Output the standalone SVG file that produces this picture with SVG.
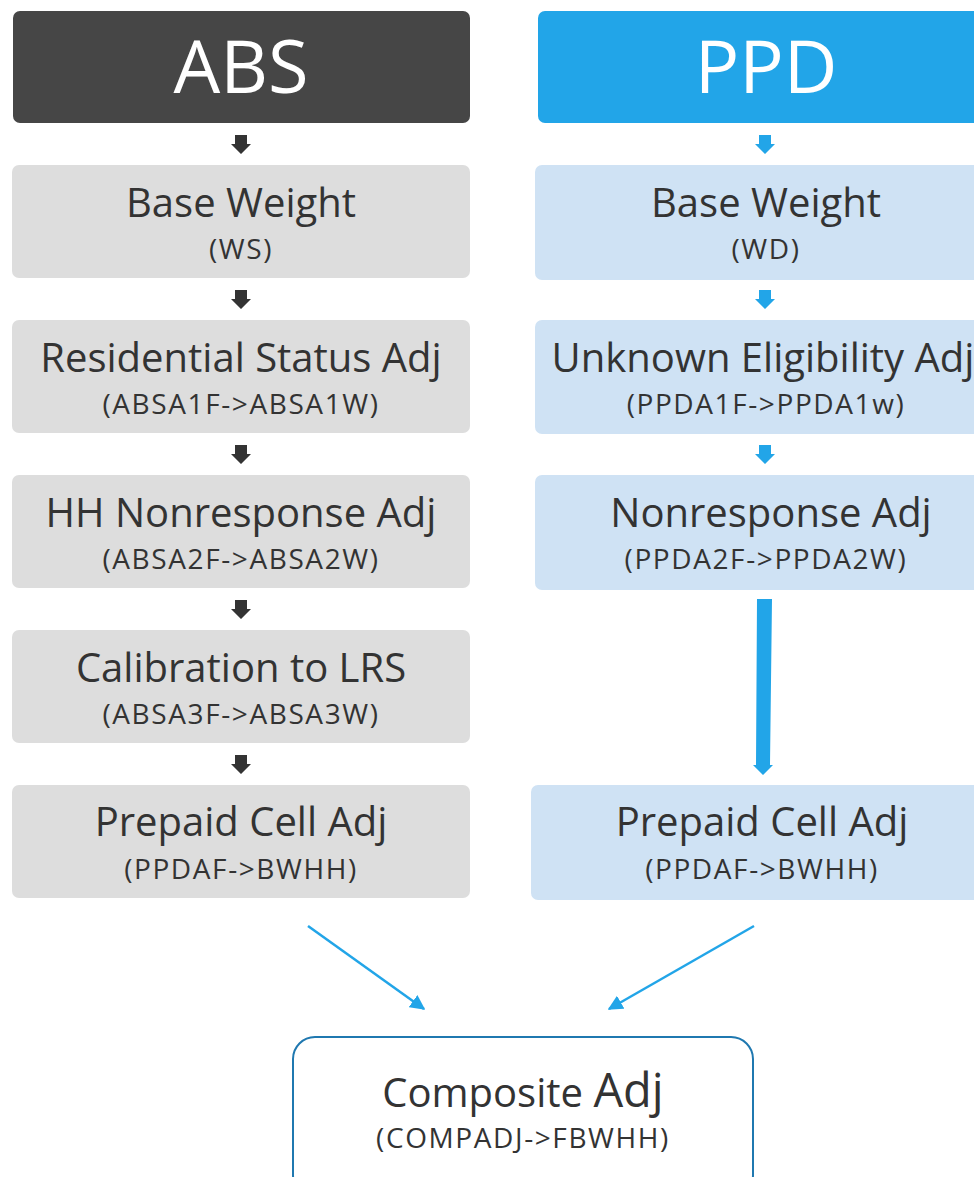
<svg xmlns="http://www.w3.org/2000/svg" width="974" height="1177" viewBox="0 0 974 1177">
  <defs>
    <style>
      .hdr-abs { fill: #464646; }
      .hdr-ppd { fill: #22a5e8; }
      .box-abs { fill: #dddddd; }
      .box-ppd { fill: #cfe2f4; }
      .hdr-txt { font-family: "Open Sans", "Noto Sans", sans-serif; font-size: 74px; fill: #ffffff; text-anchor: middle; }
      .main { font-family: "Open Sans", "Noto Sans", sans-serif; font-size: 40px; fill: #333333; text-anchor: middle; }
      .sub { font-family: "Open Sans", "Noto Sans", sans-serif; font-size: 28px; letter-spacing: 1.6px; fill: #333333; text-anchor: middle; }
      .blk { fill: #333333; }
      .blu { fill: #22a5e8; }
      .link { stroke: #22a5e8; stroke-width: 2.5; fill: none; }
    </style>
    <marker id="tip" viewBox="0 0 10 10" refX="9" refY="5" markerWidth="6" markerHeight="6" markerUnits="strokeWidth" orient="auto">
      <path d="M0,0 L10,5 L0,10 z" fill="#22a5e8"/>
    </marker>
    <!-- small block arrow, tip at origin -->
    <path id="blk-arrow" d="M-6,-19 L6,-19 L6,-10 L10,-10 L0,0 L-10,-10 L-6,-10 z"/>
  </defs>

  <!-- ABS column -->
  <g id="abs-header">
    <rect class="hdr-abs" x="13" y="11" width="457" height="112" rx="7"/>
    <text class="hdr-txt" x="241" y="93">ABS</text>
  </g>
  <g id="abs-base">
    <rect class="box-abs" x="12" y="165" width="458" height="113" rx="7"/>
    <text class="main" x="241" y="217">Base Weight</text>
    <text class="sub" x="241" y="259">(WS)</text>
  </g>
  <g id="abs-resid">
    <rect class="box-abs" x="12" y="320" width="458" height="113" rx="7"/>
    <text class="main" x="241" y="372">Residential Status Adj</text>
    <text class="sub" x="241" y="414">(ABSA1F-&gt;ABSA1W)</text>
  </g>
  <g id="abs-hhnr">
    <rect class="box-abs" x="12" y="475" width="458" height="113" rx="7"/>
    <text class="main" x="241" y="527">HH Nonresponse Adj</text>
    <text class="sub" x="241" y="569">(ABSA2F-&gt;ABSA2W)</text>
  </g>
  <g id="abs-calib">
    <rect class="box-abs" x="12" y="630" width="458" height="113" rx="7"/>
    <text class="main" x="241" y="682">Calibration to LRS</text>
    <text class="sub" x="241" y="724">(ABSA3F-&gt;ABSA3W)</text>
  </g>
  <g id="abs-prepaid">
    <rect class="box-abs" x="12" y="785" width="458" height="113" rx="7"/>
    <text class="main" x="241" y="836">Prepaid Cell Adj</text>
    <text class="sub" x="241" y="879">(PPDAF-&gt;BWHH)</text>
  </g>

  <!-- PPD column -->
  <g id="ppd-header">
    <rect class="hdr-ppd" x="538" y="11" width="460" height="112" rx="7"/>
    <text class="hdr-txt" x="766" y="93">PPD</text>
  </g>
  <g id="ppd-base">
    <rect class="box-ppd" x="535" y="165" width="463" height="115" rx="7"/>
    <text class="main" x="766" y="217">Base Weight</text>
    <text class="sub" x="766" y="259">(WD)</text>
  </g>
  <g id="ppd-unknown">
    <rect class="box-ppd" x="535" y="320" width="463" height="114" rx="7"/>
    <text class="main" x="763" y="372">Unknown Eligibility Adj</text>
    <text class="sub" x="766" y="414">(PPDA1F-&gt;PPDA1w)</text>
  </g>
  <g id="ppd-nr">
    <rect class="box-ppd" x="535" y="475" width="463" height="115" rx="7"/>
    <text class="main" x="771" y="527">Nonresponse Adj</text>
    <text class="sub" x="766" y="569">(PPDA2F-&gt;PPDA2W)</text>
  </g>
  <g id="ppd-prepaid">
    <rect class="box-ppd" x="531" y="785" width="467" height="115" rx="7"/>
    <text class="main" x="762" y="836">Prepaid Cell Adj</text>
    <text class="sub" x="762" y="879">(PPDAF-&gt;BWHH)</text>
  </g>

  <!-- Composite -->
  <g id="composite">
    <rect x="293" y="1037" width="460" height="160" rx="22" fill="#ffffff" stroke="#1f78b0" stroke-width="2"/>
    <text x="523" y="1107" font-family="'Open Sans', 'Noto Sans', sans-serif" fill="#333333" text-anchor="middle"><tspan font-size="40">Composite </tspan><tspan font-size="47">Adj</tspan></text>
    <text class="sub" x="523" y="1148">(COMPADJ-&gt;FBWHH)</text>
  </g>

  <!-- Connectors -->
  <g id="connectors">
    <use href="#blk-arrow" class="blk" x="241" y="154"/>
    <use href="#blk-arrow" class="blk" x="241" y="309"/>
    <use href="#blk-arrow" class="blk" x="241" y="464"/>
    <use href="#blk-arrow" class="blk" x="241" y="619"/>
    <use href="#blk-arrow" class="blk" x="241" y="774"/>
    <use href="#blk-arrow" class="blu" x="765" y="154"/>
    <use href="#blk-arrow" class="blu" x="765" y="309"/>
    <use href="#blk-arrow" class="blu" x="765" y="464"/>
    <path class="blu" d="M757,599 L772,599 L770,765 L773,765 L763,775 L753,765 L756,765 z"/>
    <line class="link" x1="308" y1="926" x2="424" y2="1009" marker-end="url(#tip)"/>
    <line class="link" x1="754" y1="926" x2="609" y2="1009" marker-end="url(#tip)"/>
  </g>
</svg>
